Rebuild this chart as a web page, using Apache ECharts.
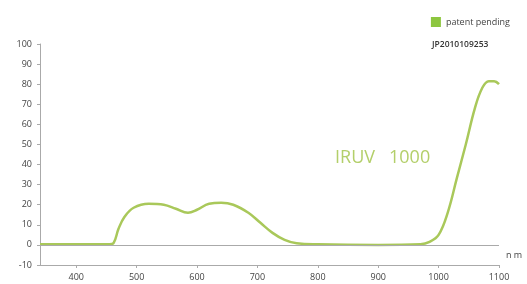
<!DOCTYPE html>
<html>
<head>
<meta charset="utf-8">
<script src="https://cdn.jsdelivr.net/npm/echarts@6/dist/echarts.min.js"></script>
<style>
  html, body { margin: 0; padding: 0; background: #fff; }
  #chart { width: 527px; height: 284px; }
</style>
</head>
<body>
<div id="chart"></div>
<script>
// wavelength (nm) / transmittance (%)
const wavelengths = [340, 400, 455, 462, 470, 480, 495, 520, 545, 565, 585, 600, 620, 640, 660, 685, 705, 725, 745, 765, 800, 900, 970, 985, 1000, 1015, 1030, 1045, 1060, 1072, 1083, 1092, 1100];
const transmittance = [0.3, 0.3, 0.3, 1, 8, 14, 18.5, 20.5, 20, 18, 16, 17.5, 20.5, 21, 20, 16, 11, 6, 2.5, 0.8, 0.3, 0, 0.3, 1.5, 5, 16, 33, 50, 68, 78, 81.5, 81.5, 80];
const xTicks = [400, 500, 600, 700, 800, 900, 1000, 1100];
const productName = 'IRUV   1000';
const legendName = 'patent pending';
const patentNo = 'JP2010109253';

const chart = echarts.init(document.getElementById('chart'));

chart.setOption({
  animation: false,
  grid: { left: 40, right: 28, top: 44, bottom: 19 },
  legend: {
    data: [{ name: legendName, icon: 'rect' }],
    right: 12, top: 12,
    itemWidth: 10, itemHeight: 10,
    textStyle: { fontSize: 9, color: '#444', fontFamily: 'Open Sans' }
  },
  xAxis: {
    type: 'value',
    min: 340, max: 1100,
    axisLine: { onZero: false, lineStyle: { color: '#aaa' } },
    axisTick: { customValues: xTicks, length: 3, lineStyle: { color: '#aaa' } },
    axisLabel: {
      customValues: xTicks, fontSize: 9, color: '#444', fontFamily: 'Open Sans', margin: 8,
      formatter: v => String(v)
    },
    splitLine: { show: false }
  },
  yAxis: {
    type: 'value',
    min: -10, max: 100, interval: 10,
    axisLine: { show: true, lineStyle: { color: '#aaa' } },
    axisTick: { show: true, length: 3, lineStyle: { color: '#aaa' } },
    axisLabel: { fontSize: 9, color: '#444', fontFamily: 'Open Sans', margin: 8 },
    splitLine: { show: false }
  },
  graphic: [
    { type: 'text', left: 335, top: 149, style: { text: productName, fontSize: 18, fill: '#b3cf6a', fontFamily: 'Open Sans' } },
    { type: 'text', left: 432, top: 40, style: { text: patentNo, fontSize: 8.5, fontWeight: 600, fill: '#333', fontFamily: 'Open Sans' } },
    { type: 'text', left: 506, top: 251, style: { text: 'n m', fontSize: 9, fill: '#444', fontFamily: 'Open Sans' } }
  ],
  series: [{
    name: legendName,
    type: 'line',
    smooth: 0.4,
    symbol: 'none',
    data: wavelengths.map((w, i) => [w, transmittance[i]]),
    itemStyle: { color: '#8dc63f' },
    lineStyle: { color: '#a9c85a', width: 2.5 },
    markLine: {
      silent: true,
      symbol: 'none',
      label: { show: false },
      lineStyle: { color: '#aaa', type: 'solid', width: 1 },
      data: [{ yAxis: 0 }]
    },
    z: 3
  }]
});
</script>
</body>
</html>
